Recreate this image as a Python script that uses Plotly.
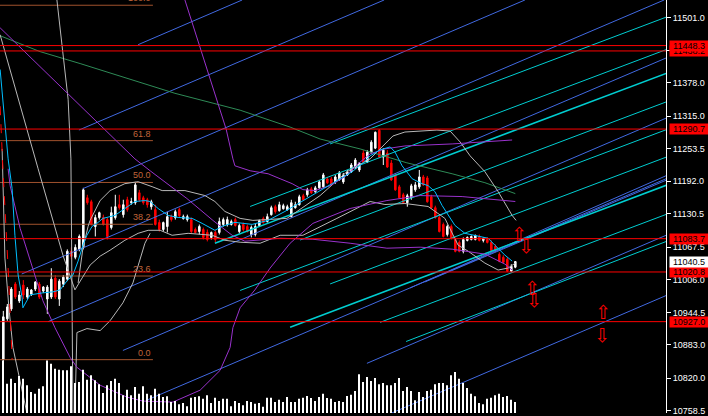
import plotly.graph_objects as go

# ---- bars (one per 4 px on the terminal chart) ----
opens = [10855.5, 10932.3, 10951.1, 10997.9, 10966.1, 10996.0, 10973.5, 10979.2, 10988.5, 10997.9,
         10984.8, 10969.8, 10973.5, 11009.2, 10969.8, 10997.9, 11007.3, 11059.8, 11048.5, 11063.5,
         11067.2, 11160.9, 11153.5, 11106.6, 11123.5, 11123.5, 11119.7, 11104.7, 11123.5, 11147.8,
         11129.1, 11157.2, 11151.6, 11151.6, 11170.3, 11160.9, 11157.2, 11144.1, 11138.5, 11114.1,
         11101.0, 11106.6, 11125.3, 11123.5, 11138.5, 11121.6, 11119.7, 11119.7, 11101.0, 11097.2,
         11101.0, 11095.4, 11086.0, 11095.4, 11095.4, 11110.4, 11110.4, 11110.4, 11119.7, 11097.2,
         11110.4, 11106.6, 11091.6, 11091.6, 11108.5, 11121.6, 11116.0, 11129.1, 11144.1, 11136.6,
         11140.3, 11138.5, 11125.3, 11142.2, 11147.8, 11164.7, 11166.6, 11177.8, 11172.2, 11179.7,
         11181.6, 11196.5, 11196.5, 11190.9, 11194.7, 11190.9, 11204.1, 11209.7, 11217.2, 11213.4,
         11245.3, 11228.4, 11247.2, 11254.6, 11288.4, 11237.8, 11245.3, 11226.5, 11204.1, 11181.6,
         11166.6, 11151.6, 11160.9, 11175.9, 11181.6, 11200.3, 11198.4, 11162.8, 11142.2, 11123.5,
         11110.4, 11091.6, 11106.6, 11082.2, 11076.6, 11059.8, 11080.4, 11082.2, 11082.2, 11087.9,
         11080.4, 11082.2, 11076.6, 11069.1, 11054.1, 11048.5, 11044.8, 11022.3, 11029.8]
highs = [10947.3, 10960.4, 10992.3, 11001.7, 10984.8, 11005.4, 10992.3, 10988.5, 11003.5, 11001.7,
         10994.2, 10996.0, 11027.9, 11014.8, 11007.3, 11014.8, 11063.5, 11067.2, 11072.9, 11091.6,
         11179.7, 11166.6, 11157.2, 11129.1, 11134.7, 11129.1, 11123.5, 11144.1, 11166.6, 11166.6,
         11157.2, 11162.8, 11160.9, 11190.9, 11175.9, 11164.7, 11160.9, 11157.2, 11147.8, 11119.7,
         11116.0, 11134.7, 11129.1, 11138.5, 11142.2, 11129.1, 11129.1, 11123.5, 11104.7, 11110.4,
         11104.7, 11101.0, 11097.2, 11099.1, 11123.5, 11123.5, 11125.3, 11119.7, 11123.5, 11112.2,
         11114.1, 11110.4, 11108.5, 11112.2, 11119.7, 11125.3, 11131.0, 11146.0, 11147.8, 11153.5,
         11149.7, 11147.8, 11157.2, 11153.5, 11166.6, 11168.4, 11179.7, 11181.6, 11183.4, 11194.7,
         11207.8, 11200.3, 11200.3, 11204.1, 11211.5, 11207.8, 11213.4, 11226.5, 11235.9, 11228.4,
         11250.9, 11250.9, 11269.6, 11286.0, 11290.7, 11254.6, 11250.9, 11232.2, 11207.8, 11185.3,
         11170.3, 11168.4, 11187.2, 11190.9, 11213.4, 11204.1, 11202.2, 11166.6, 11146.0, 11127.2,
         11114.1, 11110.4, 11110.4, 11086.0, 11080.4, 11086.0, 11087.9, 11089.7, 11091.6, 11091.6,
         11086.0, 11086.0, 11080.4, 11072.9, 11057.9, 11052.3, 11048.5, 11035.4, 11041.0]
lows = [10849.9, 10928.6, 10947.3, 10969.8, 10962.3, 10969.8, 10969.8, 10975.4, 10984.8, 10969.8,
        10981.0, 10941.7, 10969.8, 10969.8, 10956.7, 10992.3, 11003.5, 11044.8, 11044.8, 11059.8,
        11063.5, 11147.8, 11108.5, 11087.9, 11119.7, 11108.5, 11082.2, 11101.0, 11119.7, 11138.5,
        11123.5, 11134.7, 11147.8, 11147.8, 11153.5, 11147.8, 11142.2, 11138.5, 11108.5, 11097.2,
        11097.2, 11095.4, 11116.0, 11119.7, 11123.5, 11119.7, 11116.0, 11093.5, 11093.5, 11091.6,
        11082.2, 11078.5, 11082.2, 11076.6, 11091.6, 11106.6, 11106.6, 11108.5, 11106.6, 11093.5,
        11097.2, 11095.4, 11086.0, 11087.9, 11106.6, 11112.2, 11114.1, 11127.2, 11131.0, 11134.7,
        11138.5, 11136.6, 11123.5, 11140.3, 11146.0, 11155.3, 11162.8, 11168.4, 11170.3, 11177.8,
        11179.7, 11187.2, 11183.4, 11187.2, 11192.8, 11187.2, 11202.2, 11207.8, 11215.3, 11209.7,
        11226.5, 11226.5, 11243.4, 11252.8, 11235.9, 11222.8, 11217.2, 11192.8, 11174.1, 11159.1,
        11149.7, 11144.1, 11157.2, 11172.2, 11177.8, 11183.4, 11151.6, 11140.3, 11121.6, 11095.4,
        11086.0, 11087.9, 11082.2, 11057.9, 11057.9, 11056.0, 11078.5, 11080.4, 11080.4, 11078.5,
        11076.6, 11074.7, 11059.8, 11057.9, 11039.1, 11037.3, 11020.8, 11021.5, 11027.9]
closes = [10936.1, 10954.8, 10988.5, 10973.5, 10977.3, 10977.3, 10988.5, 10986.7, 11001.7, 10973.5,
          10992.3, 10992.3, 11007.3, 10973.5, 11003.5, 11011.0, 11059.8, 11050.4, 11067.2, 11087.9,
          11175.9, 11151.6, 11110.4, 11123.5, 11132.8, 11110.4, 11087.9, 11132.8, 11144.1, 11142.2,
          11147.8, 11138.5, 11153.5, 11185.3, 11157.2, 11151.6, 11147.8, 11153.5, 11110.4, 11101.0,
          11114.1, 11125.3, 11119.7, 11134.7, 11127.2, 11125.3, 11125.3, 11097.2, 11095.4, 11106.6,
          11086.0, 11082.2, 11095.4, 11082.2, 11116.0, 11119.7, 11119.7, 11116.0, 11108.5, 11108.5,
          11101.0, 11097.2, 11104.7, 11106.6, 11117.8, 11114.1, 11125.3, 11142.2, 11134.7, 11147.8,
          11146.0, 11144.1, 11151.6, 11147.8, 11162.8, 11157.2, 11175.9, 11170.3, 11179.7, 11190.9,
          11204.1, 11189.1, 11185.3, 11200.3, 11207.8, 11204.1, 11209.7, 11222.8, 11232.2, 11226.5,
          11228.4, 11247.2, 11265.9, 11284.6, 11237.8, 11250.9, 11219.0, 11194.7, 11175.9, 11160.9,
          11151.6, 11164.7, 11183.4, 11185.3, 11200.3, 11185.3, 11153.5, 11142.2, 11123.5, 11097.2,
          11087.9, 11106.6, 11084.1, 11059.8, 11059.8, 11082.2, 11086.0, 11087.9, 11089.7, 11080.4,
          11084.1, 11076.6, 11061.6, 11059.8, 11041.0, 11039.1, 11022.3, 11031.6, 11040.5]
volumes = [527, 293, 343, 300, 370, 343, 277, 210, 193, 243,
           267, 527, 493, 443, 433, 427, 427, 467, 300, 310,
           433, 333, 377, 327, 287, 200, 277, 320, 343, 300,
           177, 233, 177, 260, 193, 267, 193, 177, 243, 193,
           160, 167, 110, 120, 87, 100, 67, 153, 160, 167,
           143, 177, 100, 153, 120, 143, 143, 67, 120, 100,
           77, 120, 110, 93, 100, 63, 153, 153, 110, 133,
           110, 160, 110, 110, 143, 153, 170, 150, 120, 160,
           193, 150, 143, 110, 120, 110, 170, 183, 220, 387,
           310, 360, 320, 350, 287, 300, 277, 277, 300, 350,
           220, 260, 220, 127, 210, 160, 220, 233, 287, 300,
           300, 277, 377, 410, 343, 300, 250, 193, 167, 100,
           87, 143, 153, 177, 193, 160, 170, 133, 110]
bar_index = list(range(len(closes)))

# ---- price scale ----
tick_prices = [11501.0, 11439.5, 11378.0, 11315.0, 11253.5, 11192.0, 11130.5,
               11067.5, 11006.0, 10944.5, 10883.0, 10820.0, 10758.5]
price_range = [10754.5, 11534.4]
index_range = [-0.83, 165.67]

# horizontal levels (red) and the current bid
level_prices = [11438.2, 11448.3, 11290.7, 11083.7, 11020.8, 10927.0]
last_price = 11040.5

# fibonacci retracement
fib_high = 11524.5
fib_low = 10855.2
fib_levels = [100.0, 61.8, 50.0, 38.2, 23.6, 0.0]
fib_end = 37.4

# trend lines: (start index, start price, end index, end price)
blue_lines = [(33.7, 11450.0, 59.7, 11534.4), (18.9, 11288.8, 95.2, 11534.4),
              (19.9, 11178.2, 130.4, 11534.4), (4.6, 11017.0, 165.2, 11534.4),
              (11.2, 10927.0, 165.7, 11424.9), (29.9, 10872.6, 165.7, 11311.3),
              (35.9, 10778.9, 165.7, 11196.9), (90.9, 10848.3, 165.7, 11090.1),
              (94.2, 10745.1, 165.7, 10976.3), (101.7, 10990.7, 165.7, 11202.6),
              (105.4, 11002.0, 165.7, 11194.1)]
cyan_lines = [(81.7, 11262.6, 165.7, 11502.0), (61.7, 11144.5, 165.7, 11440.7),
              (74.2, 11081.1, 165.7, 11341.9), (59.2, 10985.9, 165.7, 11289.4),
              (81.7, 10998.2, 165.7, 11237.6), (94.2, 10925.7, 165.7, 11129.5),
              (100.7, 10889.5, 165.7, 11078.3)]
cyan_thick = [(52.9, 11075.1, 165.7, 11395.7), (71.7, 10916.5, 165.7, 11184.4)]

# ---- indicator curves ----
ma_x = [-0.8, 1.2, 2.2, 2.9, 3.7, 4.7, 4.9, 6.7, 9.9, 12.4, 14.2, 15.9, 17.4, 18.7, 19.9, 20.9,
        22.2, 23.4, 24.9, 27.9, 30.4, 32.9, 35.4, 36.7, 38.7, 41.2, 43.7, 47.2, 49.7, 51.2, 52.9,
        54.7, 57.9, 62.2, 66.2, 70.4, 74.7, 78.7, 82.9, 87.2, 89.7, 91.7, 94.2, 96.7, 97.9, 99.7,
        102.2, 104.7, 106.2, 107.9, 109.7, 111.2, 112.9, 115.4, 118.7, 121.2, 122.9, 125.4, 127.2]
ma_y = [11403.2, 11234.4, 11178.2, 11090.1, 11015.1, 10972.0, 10953.2, 10977.6, 10981.4, 10983.2,
        10987.0, 11003.9, 11015.1, 11041.4, 11071.4, 11090.1, 11107.0, 11112.6, 11122.0, 11127.6,
        11140.7, 11153.9, 11155.7, 11153.9, 11140.7, 11127.6, 11123.8, 11122.0, 11112.6, 11107.0,
        11099.5, 11107.0, 11114.5, 11110.7, 11118.2, 11135.1, 11153.9, 11172.6, 11191.3, 11210.1,
        11225.1, 11240.1, 11251.3, 11257.0, 11247.6, 11221.3, 11196.9, 11187.6, 11183.8, 11172.6,
        11146.3, 11127.6, 11108.8, 11093.8, 11088.2, 11084.5, 11071.4, 11052.6, 11041.4]

green_x = [-0.8, 9.2, 19.2, 31.7, 42.9, 59.2, 71.7, 79.2, 89.2, 100.9, 112.2, 120.4, 128.0]
green_y = [11466.9, 11436.9, 11414.4, 11384.4, 11358.2, 11326.3, 11294.4, 11271.9, 11253.2,
           11226.9, 11206.3, 11189.4, 11168.8]

purple1_x = [-0.8, 32.9, 36.7, 45.9, 52.4, 57.2, 60.4, 69.2, 77.4, 86.7, 95.9, 104.2, 112.2,
             120.4, 125.4, 127.2]
purple1_y = [11481.9, 11234.4, 11211.9, 11159.5, 11118.2, 11090.1, 11078.9, 11084.5, 11082.6,
             11075.1, 11065.7, 11067.6, 11063.9, 11054.5, 11035.7, 11024.5]
purple2_x = [45.4, 51.7, 55.7, 57.4, 57.9, 61.7, 66.2, 69.2, 72.2, 74.9, 77.9, 81.7, 85.4, 88.7,
             91.7, 95.4, 100.4, 112.2, 120.4, 127.2]
purple2_y = [11534.4, 11384.4, 11290.7, 11234.4, 11221.3, 11211.9, 11206.3, 11196.9, 11187.6,
             11176.3, 11174.5, 11183.8, 11200.7, 11225.1, 11243.8, 11253.2, 11258.8, 11262.6,
             11266.3, 11270.0]
purple3_x = [1.2, 1.7, 4.2, 7.4, 9.9, 12.9, 16.7, 18.4, 24.2, 30.9, 34.9, 42.4, 49.2, 54.2, 56.7,
             57.4, 59.2, 62.9, 66.7, 71.7, 77.4, 86.7, 95.9, 104.2, 114.7, 128.0]
purple3_y = [11215.7, 11183.8, 11103.2, 11028.2, 10966.4, 10915.8, 10859.5, 10840.8, 10807.0,
             10784.5, 10777.0, 10775.1, 10797.6, 10835.1, 10878.3, 10915.8, 10953.2, 10987.0,
             11028.2, 11075.1, 11112.6, 11140.7, 11155.7, 11165.1, 11163.2, 11153.9]

red_dash_x = [-0.8, -0.1, 1.2, 1.9, 2.2]
red_dash_y = [11333.8, 11215.7, 11028.2, 10915.8, 10855.7]

band_low_x = [-0.8, 7.9, 8.7, 14.9, 16.2, 17.9, 19.7, 21.7, 24.2, 26.7, 30.4, 33.7, 36.2, 39.2,
              42.2, 46.2, 52.2, 55.4, 59.2, 64.2, 69.2, 74.9, 83.4, 91.7, 95.4, 100.4, 106.2,
              110.4, 113.7, 116.2, 120.4, 123.7, 126.2, 128.0]
band_low_y = [11468.8, 11234.4, 11215.7, 11052.6, 11022.6, 10987.0, 11009.5, 11033.9, 11050.7,
              11062.0, 11080.7, 11093.8, 11099.5, 11099.5, 11090.1, 11093.8, 11090.1, 11080.7,
              11077.0, 11075.1, 11090.1, 11090.1, 11122.0, 11153.9, 11148.2, 11150.1, 11144.5,
              11122.0, 11071.4, 11060.1, 11037.6, 11024.5, 11028.2, 11037.6]
band_up_x = [18.7, 19.9, 21.2, 21.7, 24.2, 26.7, 30.4, 33.7, 37.2, 39.7, 45.4, 50.4, 52.9, 55.4,
             59.2, 62.4, 70.9, 79.2, 85.9, 91.7, 97.4, 100.4, 108.4, 111.7, 114.2, 116.7, 120.4,
             123.7, 127.2, 128.2]
band_up_y = [11000.1, 11065.7, 11107.0, 11118.2, 11155.7, 11174.5, 11187.6, 11191.3, 11181.9,
             11174.5, 11174.5, 11165.1, 11153.9, 11135.1, 11122.0, 11118.2, 11122.0, 11165.1,
             11210.1, 11234.4, 11277.6, 11285.1, 11288.8, 11286.9, 11266.3, 11240.1, 11210.1,
             11172.6, 11127.6, 11118.2]
gray_a_x = [13.4, 16.2, 16.9, 17.2, 17.4]
gray_a_y = [11534.4, 11346.9, 11234.4, 10972.0, 10754.5]
gray_b_x = [17.9, 18.2, 18.4, 20.9, 24.2, 26.7, 29.9, 32.4, 34.2, 35.4, 36.7]
gray_b_y = [10754.5, 10859.5, 10906.4, 10913.9, 10910.1, 10928.8, 10962.6, 11000.1, 11043.2,
            11075.1, 11093.8]
gray_c_x = [-0.3, 0.4, 1.4, 2.4, 5.9]
gray_c_y = [11253.2, 11047.0, 10953.2, 10878.3, 10754.5]

# arrow objects
arrow_up_x = [128.9, 132.2, 149.9]
arrow_up_p = [11092.0, 10990.7, 10945.7]
arrow_dn_x = [130.6, 132.6, 149.6]
arrow_dn_p = [11070.4, 10968.2, 10902.6]

BLUE = '#4169e1'
CYAN = '#00ced1'
SKY = '#00bfff'
PURPLE = '#9932cc'
GRAY = '#b8b8b8'
SIENNA = '#a0522d'

fig = go.Figure()


def add_line(x, y, color, width=1, dash='solid'):
    fig.add_trace(go.Scatter(x=x, y=y, mode='lines', hoverinfo='skip',
                             line=dict(color=color, width=width, dash=dash)))


# volume first (own hidden axis)
fig.add_trace(go.Bar(x=bar_index, y=volumes, yaxis='y2', width=0.22,
                     marker=dict(color='white', line=dict(width=0)), hoverinfo='skip'))

# fibonacci levels
for lvl in fib_levels:
    p = fib_low + (fib_high - fib_low) * lvl / 100
    add_line([index_range[0], fib_end], [p, p], SIENNA)

# channel lines
for x0, p0, x1, p1 in blue_lines:
    add_line([x0, x1], [p0, p1], BLUE)
for x0, p0, x1, p1 in cyan_lines:
    add_line([x0, x1], [p0, p1], CYAN)
for x0, p0, x1, p1 in cyan_thick:
    add_line([x0, x1], [p0, p1], CYAN, 1.6)

# indicators
add_line(green_x, green_y, '#2e8b57')
add_line(band_low_x, band_low_y, GRAY)
add_line(band_up_x, band_up_y, GRAY)
add_line(gray_a_x, gray_a_y, GRAY)
add_line(gray_b_x, gray_b_y, GRAY)
add_line(gray_c_x, gray_c_y, GRAY)
add_line(purple1_x, purple1_y, PURPLE)
add_line(purple2_x, purple2_y, PURPLE)
add_line(purple3_x, purple3_y, PURPLE)
add_line(red_dash_x, red_dash_y, 'red', 1, 'dash')
add_line(ma_x, ma_y, SKY)

# candles
fig.add_trace(go.Candlestick(
    x=bar_index, open=opens, high=highs, low=lows, close=closes,
    increasing=dict(line=dict(color='white', width=1), fillcolor='white'),
    decreasing=dict(line=dict(color='red', width=1), fillcolor='red'),
    whiskerwidth=0, hoverinfo='skip'))

# red horizontal levels
for p in level_prices:
    fig.add_shape(type='line', xref='paper', x0=0, x1=1, yref='y', y0=p, y1=p,
                  line=dict(color='red', width=1))

annotations = []
for lvl in fib_levels:
    p = fib_low + (fib_high - fib_low) * lvl / 100
    annotations.append(dict(x=fib_end, y=p, xref='x', yref='y', text='%.1f' % lvl,
                            showarrow=False, xanchor='right', yanchor='bottom',
                            font=dict(family='Liberation Sans', size=9, color='#c0653a')))
for p in level_prices:
    annotations.append(dict(x=1, y=p, xref='paper', yref='y', text='%.1f' % p,
                            showarrow=False, xanchor='left', yanchor='middle', xshift=3,
                            width=38, align='center', bgcolor='red', borderpad=0,
                            font=dict(family='Liberation Sans', size=9, color='black')))
annotations.append(dict(x=1, y=last_price, xref='paper', yref='y', text='%.1f' % last_price,
                        showarrow=False, xanchor='left', yanchor='middle', xshift=3,
                        width=38, align='center', bgcolor='white', borderpad=0,
                        font=dict(family='Liberation Sans', size=9, color='black')))
for x, p in zip(arrow_up_x, arrow_up_p):
    annotations.append(dict(x=x, y=p, xref='x', yref='y', text='\u21e7', showarrow=False,
                            font=dict(family='DejaVu Sans', size=19, color='red')))
for x, p in zip(arrow_dn_x, arrow_dn_p):
    annotations.append(dict(x=x, y=p, xref='x', yref='y', text='\u21e9', showarrow=False,
                            font=dict(family='DejaVu Sans', size=19, color='red')))

fig.update_layout(
    width=708, height=416,
    margin=dict(l=0, r=42, t=0, b=0),
    paper_bgcolor='black', plot_bgcolor='black',
    showlegend=False, boxgap=0.45,
    annotations=annotations,
    xaxis=dict(range=index_range, visible=False, rangeslider=dict(visible=False)),
    yaxis=dict(range=price_range, side='right', tickvals=tick_prices,
               ticktext=['%.1f' % t for t in tick_prices],
               ticks='outside', ticklen=4, tickcolor='white',
               ticklabeloverflow='allow',
               showline=True, linecolor='white', linewidth=1,
               showgrid=False, zeroline=False,
               tickfont=dict(family='Liberation Sans', size=9, color='white')),
    yaxis2=dict(overlaying='y', range=[0, max(volumes) * 416 / 53], visible=False),
)

# page body has a default 8px margin; remove it so the chart fills the window
fig.write_html("out.html", config={'displayModeBar': False},
               post_script="document.body.style.margin='0';")
